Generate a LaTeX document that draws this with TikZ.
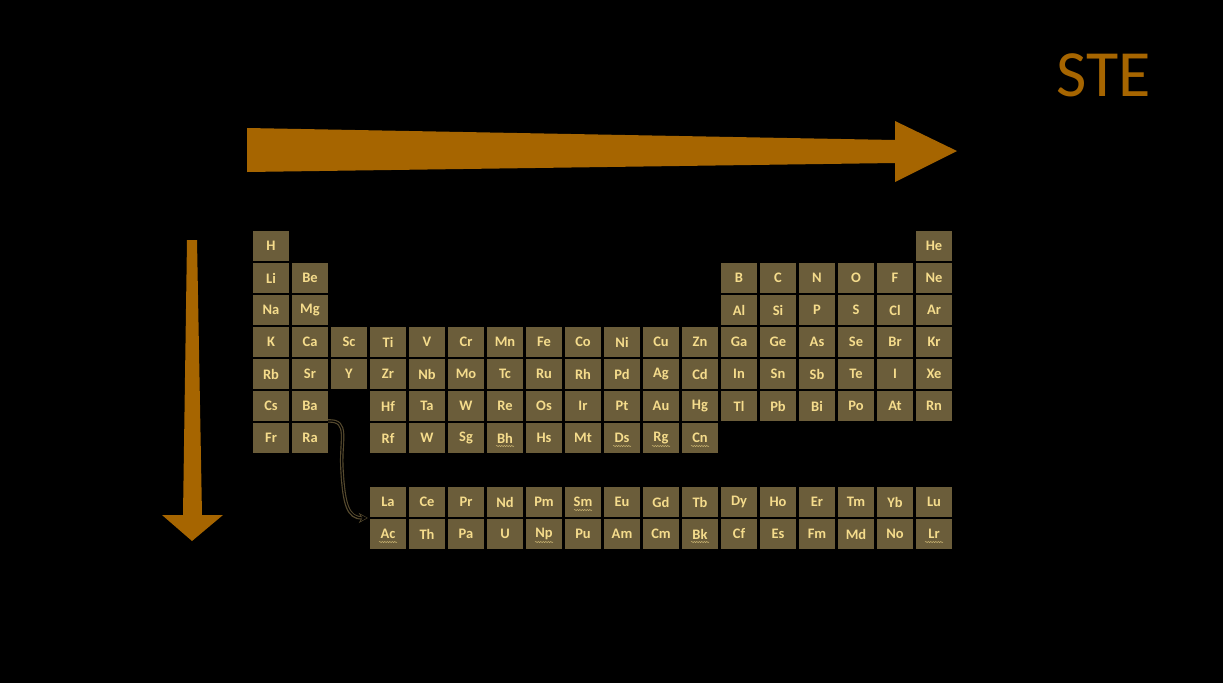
\documentclass[tikz,border=0pt]{standalone}
\usepackage{fontspec}
\setmainfont{Carlito}
\usetikzlibrary{decorations.pathmorphing,arrows.meta}
\definecolor{cellfill}{HTML}{6B5D3A}
\definecolor{celltxt}{HTML}{F5DC8C}
\definecolor{arr}{HTML}{A66500}
\tikzset{el/.style={fill=cellfill,minimum width=36pt,minimum height=29.5pt,inner sep=0pt,text=celltxt,font=\fontsize{14.5pt}{14.5pt}\selectfont\bfseries},
 sq/.style={draw=celltxt!70!cellfill,line width=0.5pt,decorate,decoration={snake,amplitude=0.6pt,segment length=2.5pt}}}
\begin{document}
\begin{tikzpicture}[x=1pt,y=-1pt]
\fill[black] (0,0) rectangle (1223,683);
\useasboundingbox (0,0) rectangle (1223,683);
\node[text=arr,font=\fontsize{66pt}{66pt}\selectfont] (ste) at (1104,75) {STE};
\fill[arr] (247,128) -- (895,140) -- (895,121) -- (957,151) -- (895,182) -- (895,163) -- (247,172) -- cycle;
\fill[arr] (187,240) -- (197,240) -- (202,515) -- (223,515) -- (192,541) -- (162,515) -- (183,515) -- cycle;
\foreach \s/\c/\r in {H/1/1,He/18/1,Li/1/2,Be/2/2,B/13/2,C/14/2,N/15/2,O/16/2,F/17/2,Ne/18/2,
Na/1/3,Mg/2/3,Al/13/3,Si/14/3,P/15/3,S/16/3,Cl/17/3,Ar/18/3,
K/1/4,Ca/2/4,Sc/3/4,Ti/4/4,V/5/4,Cr/6/4,Mn/7/4,Fe/8/4,Co/9/4,Ni/10/4,Cu/11/4,Zn/12/4,Ga/13/4,Ge/14/4,As/15/4,Se/16/4,Br/17/4,Kr/18/4,
Rb/1/5,Sr/2/5,Y/3/5,Zr/4/5,Nb/5/5,Mo/6/5,Tc/7/5,Ru/8/5,Rh/9/5,Pd/10/5,Ag/11/5,Cd/12/5,In/13/5,Sn/14/5,Sb/15/5,Te/16/5,I/17/5,Xe/18/5,
Cs/1/6,Ba/2/6,Hf/4/6,Ta/5/6,W/6/6,Re/7/6,Os/8/6,Ir/9/6,Pt/10/6,Au/11/6,Hg/12/6,Tl/13/6,Pb/14/6,Bi/15/6,Po/16/6,At/17/6,Rn/18/6,
Fr/1/7,Ra/2/7,Rf/4/7,Sg/6/7,Bh/7/7,Hs/8/7,Mt/9/7,Ds/10/7,Rg/11/7,Cn/12/7,
La/4/9,Ce/5/9,Pr/6/9,Nd/7/9,Pm/8/9,Sm/9/9,Eu/10/9,Gd/11/9,Tb/12/9,Dy/13/9,Ho/14/9,Er/15/9,Tm/16/9,Yb/17/9,Lu/18/9,
Ac/4/10,Th/5/10,Pa/6/10,U/7/10,Np/8/10,Pu/9/10,Am/10/10,Cm/11/10,Bk/12/10,Cf/13/10,Es/14/10,Fm/15/10,Md/16/10,No/17/10,Lr/18/10}
{\pgfmathsetmacro\yy{\r<8 ? 246+32*(\r-1) : 502+32*(\r-9)}
 \node[el] (e\s) at ({271+39*(\c-1)},\yy) {\s};}
\node[el] (eW2) at (427,438) {W};
\foreach \s in {Bh,Ds,Rg,Cn,Sm,Ac,Np,Bk,Lr}
 \draw[sq] ([xshift=-9pt,yshift=-8pt]e\s.center) -- ([xshift=9pt,yshift=-8pt]e\s.center);
\draw[draw=cellfill!80!black,line width=3.5pt,-{Stealth[length=9pt,width=10pt]}] (eBa.south east) .. controls (350,420) and (340,440) .. (342,470) .. controls (344,505) and (348,518) .. ([xshift=-2pt,yshift=-1pt]eLa.south west);
\draw[draw=black,line width=1.2pt,-{Stealth[length=6pt,width=6pt]}] (eBa.south east) .. controls (350,420) and (340,440) .. (342,470) .. controls (344,505) and (348,518) .. ([xshift=-3pt,yshift=-1pt]eLa.south west);
\end{tikzpicture}
\end{document}
